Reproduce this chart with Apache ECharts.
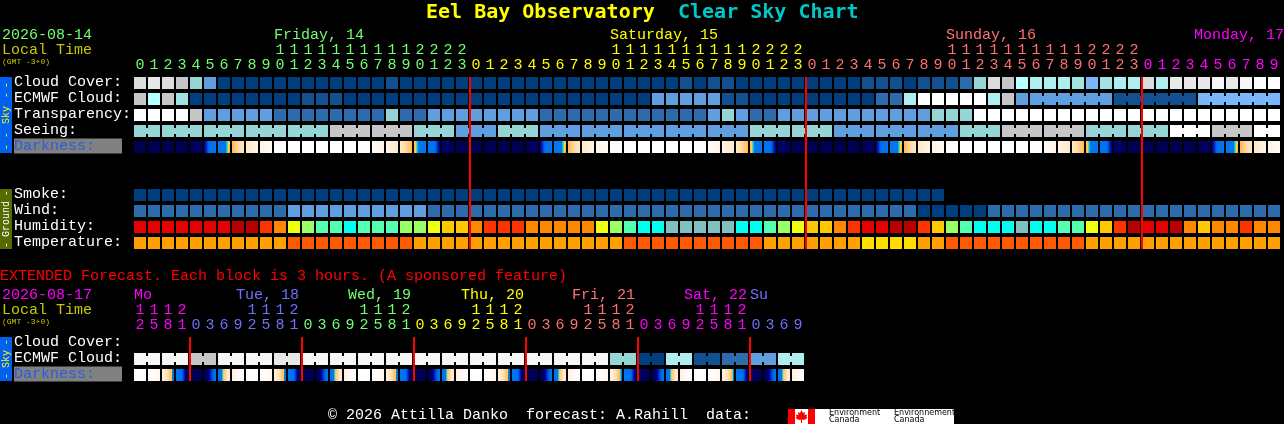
<!DOCTYPE html>
<html>
<head>
<meta charset="utf-8">
<title>Eel Bay Observatory Clear Sky Chart</title>
<script src="https://cdn.jsdelivr.net/npm/echarts@6/dist/echarts.min.js"></script>
<style>html,body{margin:0;padding:0;background:#000}#c{width:1284px;height:424px}</style>
</head>
<body>
<div id="c"></div>
<script>
// ---------- tick labels ----------
const hourOnes = "0 1 2 3 4 5 6 7 8 9 0 1 2 3 4 5 6 7 8 9 0 1 2 3 0 1 2 3 4 5 6 7 8 9 0 1 2 3 4 5 6 7 8 9 0 1 2 3 0 1 2 3 4 5 6 7 8 9 0 1 2 3 4 5 6 7 8 9 0 1 2 3 0 1 2 3 4 5 6 7 8 9".split(" ");
const hourTens = "_ _ _ _ _ _ _ _ _ _ 1 1 1 1 1 1 1 1 1 1 2 2 2 2 _ _ _ _ _ _ _ _ _ _ 1 1 1 1 1 1 1 1 1 1 2 2 2 2 _ _ _ _ _ _ _ _ _ _ 1 1 1 1 1 1 1 1 1 1 2 2 2 2 _ _ _ _ _ _ _ _ _ _".split(" ").map(s => s === "_" ? "" : s);
const hourColors = [[24, "#70ff70"], [48, "#ffff00"], [72, "#ff7070"], [82, "#ff00ff"]];
const extOnes = "2 5 8 1 0 3 6 9 2 5 8 1 0 3 6 9 2 5 8 1 0 3 6 9 2 5 8 1 0 3 6 9 2 5 8 1 0 3 6 9 2 5 8 1 0 3 6 9".split(" ");
const extTens = "1 1 1 2 _ _ _ _ 1 1 1 2 _ _ _ _ 1 1 1 2 _ _ _ _ 1 1 1 2 _ _ _ _ 1 1 1 2 _ _ _ _ 1 1 1 2 _ _ _ _".split(" ").map(s => s === "_" ? "" : s);
const extColors = [[4, "#ff00ff"], [12, "#7070ff"], [20, "#70ff70"], [28, "#ffff00"], [36, "#ff7070"], [44, "#ff00ff"], [48, "#7070ff"]];
const hourlyRows = ["Cloud Cover:", "ECMWF Cloud:", "Transparency:", "Seeing:", "Darkness:", " ", "  ", "Smoke:", "Wind:", "Humidity:", "Temperature:"];
const extendedRows = ["Cloud Cover:", "ECMWF Cloud:", "Darkness:"];
const dayLabels = [["Friday, 14", 274, "#70ff70"], ["Saturday, 15", 610, "#ffff00"], ["Sunday, 16", 946, "#ff7070"], ["Monday, 17", 1194, "#ff00ff"]];
const extDayLabels = [["Mo", 134, "#ff00ff"], ["Tue, 18", 236, "#7070ff"], ["Wed, 19", 348, "#70ff70"], ["Thu, 20", 461, "#ffff00"], ["Fri, 21", 572, "#ff7070"], ["Sat, 22", 684, "#ff00ff"], ["Su", 750, "#7070ff"]];

// ---------- colour scales ----------
const skyPalette = ["#003f7f", "#13508f", "#2c6cad", "#5f9fe0", "#79b7f9", "#95d5d5", "#a2e2e2", "#aeeeee", "#b8ffff", "#c6c6c6", "#dcdcdc", "#e8e8e8", "#f6f6f6", "#ffffff"];
const humidityPalette = ["#80c0c0", "#00ffee", "#55ffb0", "#99ff66", "#eeff11", "#ffc800", "#ff8800", "#ff3300", "#e60000", "#b80000"];
const temperaturePalette = ["#ffa000", "#ff5a00", "#ffdd00"];
const darknessScale = [[0, "#000050"], [0.8, "#000070"], [1, "#0000a0"], [1.4, "#0040d0"], [1.8, "#0070f0"], [3.8, "#0078f0"], [3.85, "#20d0d0"], [3.92, "#60d890"], [3.98, "#ffd040"], [4.1, "#ffb850"], [5, "#ffd8a0"], [5.8, "#ffe8c8"], [6.8, "#fff4e4"], [7.5, "#fffcf8"], [8, "#ffffff"]];

// ---------- hourly series (levels index the palettes above) ----------
const cloudCover = [10,11,10,9,5,3,0,0,0,0,0,0,0,0,0,0,0,0,1,0,0,0,0,0,0,0,0,0,0,0,0,0,0,0,0,0,0,0,0,1,0,1,1,0,0,0,0,0,0,0,0,0,1,1,1,0,1,1,1,2,5,10,9,8,7,7,7,6,4,6,7,7,10,7,11,11,11,12,11,12,13,13];
const ecmwfCloud = [9,8,9,6,0,0,0,0,0,0,0,0,1,1,1,0,0,0,0,0,0,0,0,0,0,0,0,0,0,0,0,0,0,0,0,0,0,3,3,3,3,3,1,1,0,0,0,0,0,0,0,0,0,2,2,7,13,13,13,13,13,7,9,3,3,3,3,3,3,3,1,1,1,1,1,1,4,4,4,4,4,4];
const transparency = [13,13,13,13,9,3,3,3,3,3,2,2,2,2,2,2,2,2,5,2,2,3,3,3,3,3,3,3,3,2,2,2,2,2,2,2,2,2,2,2,2,3,5,3,2,2,3,3,3,3,3,3,3,3,3,3,3,5,5,5,13,13,13,13,13,13,13,13,13,13,13,13,13,13,13,13,13,13,13,13,13,13];
const seeing = [5,5,5,5,5,5,5,5,5,5,5,5,5,5,9,9,9,9,9,9,5,5,5,3,3,3,5,5,5,3,3,3,3,3,3,3,3,3,3,3,3,3,3,3,5,5,5,5,5,5,3,3,3,3,3,3,3,3,3,5,5,5,9,9,9,9,9,9,5,5,5,5,5,5,13,13,13,9,9,9,13,13];
const smoke = [0,0,0,0,0,0,0,0,0,0,0,0,0,0,0,0,0,0,0,0,0,0,0,0,0,0,0,0,0,0,0,0,0,0,0,0,0,0,0,0,0,0,0,0,0,0,0,0,0,0,0,0,0,0,0,0,0,0];
const wind = [2,2,2,2,2,2,2,2,2,2,2,3,3,3,3,3,3,3,3,3,3,2,2,2,2,2,2,2,2,2,2,2,2,2,2,2,2,2,2,2,2,2,2,2,2,2,2,2,2,2,2,2,2,2,2,2,0,0,0,0,0,2,2,2,2,2,2,2,2,2,2,2,2,2,2,2,2,2,2,2,2,2];
const humidity = [8,8,8,8,8,8,8,9,9,7,6,4,3,2,2,1,2,2,2,3,3,4,5,5,6,7,7,7,6,6,6,6,6,4,3,2,1,1,0,0,0,0,0,1,1,2,3,4,5,5,6,7,8,8,9,9,7,5,3,2,1,1,1,0,1,1,2,2,4,5,7,9,8,8,9,6,5,6,6,7,6,6];
const temperature = [0,0,0,0,0,0,0,0,0,0,0,1,1,1,1,1,1,1,1,1,0,0,0,0,0,0,0,0,0,0,0,0,0,0,0,1,1,1,1,1,1,1,1,1,1,0,0,0,0,0,0,0,2,2,2,2,0,0,1,1,1,1,1,1,1,1,1,1,0,0,0,0,0,0,0,0,0,0,0,0,0,0];
const darknessEdges = [0,0,0,0,0,.8,3.2,4.1,5.8,6.8,7.5,8,8,8,8,8,8,7.5,6.8,5.8,4.1,3.2,.8,.1,0,0,0,0,0,.8,3.2,4.1,5.8,6.8,7.5,8,8,8,8,8,8,7.5,6.8,5.8,4.1,3.2,.8,.1,0,0,0,0,0,.8,3.2,4.1,5.8,6.8,7.5,8,8,8,8,8,8,7.5,6.8,5.8,4.1,3.2,.8,.1,0,0,0,0,0,.8,3.2,4.1,5.8,6.8,7.5];
const seeingBlocks = [2,3,3,3,3,3,3,3,3,3,3,3,3,3,3,3,3,3,3,3,3,3,3,3,3,3,3,2];
const ecmwfBlocks = [1,1,1,1,1,1,1,1,1,1,1,1,1,1,1,1,1,1,1,1,1,1,1,1,1,1,1,1,1,1,1,1,1,1,1,1,1,1,1,1,1,1,1,1,1,1,1,1,1,1,1,1,1,1,1,1,1,1,1,1,1,1,1,1,6,6,6];
const dayStarts = [24, 48, 72];

// ---------- extended series ----------
const extCloudCover = [];
const extEcmwf = [12,12,12,12,9,9,12,12,12,12,11,11,12,12,12,12,12,12,12,12,12,12,12,12,12,12,12,12,12,12,12,12,12,12,5,5,0,0,7,7,1,1,2,2,3,3,7,7];
const extDarknessEdges = [8,8,7,3.2,.3,0,2.2,6.6,8,8,7,3.2,.3,0,2.2,6.6,8,8,7,3.2,.3,0,2.2,6.6,8,8,7,3.2,.3,0,2.2,6.6,8,8,7,3.4,.6,0,2.2,6.6,8,8,7,3.5,.6,0,2.2,6.6,7.6];
const extBlocks = [2,2,2,2,2,2,2,2,2,2,2,2,2,2,2,2,2,2,2,2,2,2,2,2];
const extDayStarts = [4, 12, 20, 28, 36, 44];

// ---------- helpers ----------
const MONO = '"Liberation Mono", monospace';
const MONO_BOLD = '"DejaVu Sans Mono", monospace';
const hexRgb = h => [1, 3, 5].map(i => parseInt(h.substr(i, 2), 16));
function darknessColor(v) {
  const s = darknessScale;
  if (v <= s[0][0]) return s[0][1];
  for (let i = 1; i < s.length; i++) {
    if (v <= s[i][0]) {
      const t = (v - s[i - 1][0]) / (s[i][0] - s[i - 1][0]);
      const a = hexRgb(s[i - 1][1]), b = hexRgb(s[i][1]);
      return "rgb(" + a.map((c, k) => Math.round(c + (b[k] - c) * t)).join(",") + ")";
    }
  }
  return s[s.length - 1][1];
}
function darknessFill(v0, v1) {
  const stops = [];
  for (let i = 0; i < 12; i++) {
    const col = darknessColor(v0 + (v1 - v0) * (i + 0.5) / 12);
    stops.push({offset: i / 12, color: col}, {offset: (i + 1) / 12, color: col});
  }
  return new echarts.graphic.LinearGradient(0, 0, 1, 0, stops);
}
function joinFlags(blocks) {
  const out = [];
  blocks.forEach(n => { for (let i = 0; i < n; i++) out.push(i < n - 1 ? 1 : 0); });
  return out;
}
function blockSeries(name, values, row, palette, axis, blocks) {
  const joins = blocks ? joinFlags(blocks) : [];
  return {
    type: "custom", name, xAxisIndex: axis, yAxisIndex: axis === 0 ? 0 : 1, clip: false, z: 2,
    data: values.map((v, i) => [i, row, v, joins[i] || 0]),
    renderItem(params, api) {
      const p = api.coord([api.value(0), api.value(1)]);
      const fill = palette[api.value(2)];
      const kids = [{type: "rect", shape: {x: p[0] - 6, y: p[1] - 6, width: 12, height: 12}, style: {fill}}];
      if (api.value(3)) kids.push({type: "rect", shape: {x: p[0] + 6, y: p[1] - 3, width: 2, height: 6}, style: {fill}});
      return {type: "group", children: kids};
    }
  };
}
function darknessSeries(edges, row, axis) {
  return {
    type: "custom", name: "Darkness", xAxisIndex: axis, yAxisIndex: axis === 0 ? 0 : 1, clip: false, z: 2,
    data: edges.slice(0, -1).map((v, i) => [i, row, v, edges[i + 1]]),
    renderItem(params, api) {
      const p = api.coord([api.value(0), api.value(1)]);
      return {type: "rect", shape: {x: p[0] - 6, y: p[1] - 6, width: 12, height: 12},
        style: {fill: darknessFill(api.value(2), api.value(3))}};
    }
  };
}
function boundarySeries(starts, firstRow, lastRow, axis) {
  return {
    type: "custom", name: "Midnight", xAxisIndex: axis, yAxisIndex: axis === 0 ? 0 : 1, clip: false, z: 5,
    data: starts.map(c => [c, firstRow, lastRow]),
    renderItem(params, api) {
      const a = api.coord([api.value(0), api.value(1)]);
      const b = api.coord([api.value(0), api.value(2)]);
      return {type: "rect", shape: {x: a[0] - 7, y: a[1] - 6, width: 2, height: b[1] - a[1] + 12}, style: {fill: "#ff0000"}};
    }
  };
}
const colorBy = table => (value, index) => {
  for (const [end, c] of table) if (index < end) return c;
  return table[table.length - 1][1];
};
function hourAxis(data, grid, colors, offset) {
  return {
    type: "category", gridIndex: grid, position: "top", data, offset,
    axisLine: {show: false}, axisTick: {show: false}, splitLine: {show: false},
    axisLabel: {show: true, interval: 0, margin: 2, fontFamily: MONO, fontSize: 15, color: colorBy(colors), hideOverlap: false}
  };
}
function rowAxis(data, grid) {
  return {
    type: "category", gridIndex: grid, inverse: true, data,
    axisLine: {show: false}, axisTick: {show: false}, splitLine: {show: false},
    axisLabel: {
      show: true, interval: 0, margin: 119, align: "left", fontFamily: MONO, fontSize: 15, color: "#ffffff",
      padding: [0, 0, 2, 0],
      formatter: v => v === "Darkness:" ? "{d|Darkness:}" : v,
      rich: {d: {color: "#2a5ce0", backgroundColor: "#808080", width: 108, height: 15, fontFamily: MONO, fontSize: 15}}
    }
  };
}
const text = (t, x, y, fill, size, weight, family) => ({
  type: "text", x, y, z: 10, silent: true,
  style: {text: t, fill, font: (weight || "normal") + " " + (size || 15) + "px " + (family || MONO), textVerticalAlign: "middle", textBaseline: "middle"}
});
const vtext = (t, cx, cy, fill) => ({
  type: "text", x: cx, y: cy, rotation: Math.PI / 2, z: 10, silent: true,
  style: {text: t, fill, font: "10px " + MONO, textAlign: "center", align: "center", textVerticalAlign: "middle", verticalAlign: "middle"}
});
const rect = (x, y, w, h, fill, z) => ({type: "rect", silent: true, z: z || 1, shape: {x, y, width: w, height: h}, style: {fill}});

const graphics = [
  text("Eel Bay Observatory", 426, 13, "#ffff00", 20, "bold", MONO_BOLD),
  text("Clear Sky Chart", 678, 13, "#00c8c8", 20, "bold", MONO_BOLD),
  text("2026-08-14", 2, 35, "#70ff70"),
  text("Local Time", 2, 50, "#c8c800"),
  text("(GMT -3+0)", 2, 62, "#c8c800", 8),
  ...dayLabels.map(d => text(d[0], d[1], 35, d[2])),
  rect(0, 77, 12, 76, "#0060f0"),
  vtext("-", 6, 85, "#ffff00"), vtext("-", 6, 95, "#ffff00"), vtext("Sky", 6, 115, "#ffff00"), vtext("-", 6, 135, "#ffff00"), vtext("-", 6, 147, "#ffff00"),
  rect(0, 189, 12, 60, "#556b00"),
  vtext("-", 6, 193, "#ffffff"), vtext("Ground", 6, 219, "#ffffff"), vtext("-", 6, 245, "#ffffff"),
  text("EXTENDED Forecast. Each block is 3 hours. (A sponsored feature)", 0, 276, "#ff0000"),
  text("2026-08-17", 2, 295, "#ff00ff"),
  text("Local Time", 2, 310, "#c8c800"),
  text("(GMT -3+0)", 2, 322, "#c8c800", 8),
  ...extDayLabels.map(d => text(d[0], d[1], 295, d[2])),
  rect(0, 337, 12, 44, "#0060f0"),
  vtext("-", 6, 342, "#ffff00"), vtext("Sky", 6, 359, "#ffff00"), vtext("-", 6, 376, "#ffff00"),
  text("\u00a9 2026 Attilla Danko  forecast: A.Rahill  data:", 328, 415, "#ffffff"),
  rect(788, 409, 166, 15, "#ffffff"),
  rect(788, 409, 7, 15, "#ff0000", 2),
  rect(808, 409, 7, 15, "#ff0000", 2),
  {type: "polygon", silent: true, z: 3, shape: {points: [[801.5,410],[803,413],[805,412],[804.5,415],[807,414.5],[806.5,417],[807.5,418],[804,420],[802,419.5],[802,423],[801,423],[801,419.5],[799,420],[795.5,418],[796.5,417],[796,414.5],[798.5,415],[798,412],[800,413]]}, style: {fill: "#ff0000"}},
  text("Environment", 829, 413, "#000000", 8, "normal", '"DejaVu Sans", sans-serif'),
  text("Canada", 829, 420, "#000000", 8, "normal", '"DejaVu Sans", sans-serif'),
  text("Environnement", 894, 413, "#000000", 8, "normal", '"DejaVu Sans", sans-serif'),
  text("Canada", 894, 420, "#000000", 8, "normal", '"DejaVu Sans", sans-serif')
];

const chart = echarts.init(document.getElementById("c"), null, {width: 1284, height: 424, renderer: "canvas"});
chart.setOption({
  animation: false,
  backgroundColor: "#000000",
  grid: [
    {left: 133, top: 75, width: 1148, height: 176},
    {left: 133, top: 335, width: 672, height: 48}
  ],
  xAxis: [
    hourAxis(hourOnes, 0, hourColors, 0),
    hourAxis(hourTens, 0, hourColors, 15),
    hourAxis(extOnes, 1, extColors, 0),
    hourAxis(extTens, 1, extColors, 15)
  ],
  yAxis: [rowAxis(hourlyRows, 0), rowAxis(extendedRows, 1)],
  graphic: {elements: graphics},
  series: [
    blockSeries("Cloud Cover", cloudCover, 0, skyPalette, 0),
    blockSeries("ECMWF Cloud", ecmwfCloud, 1, skyPalette, 0, ecmwfBlocks),
    blockSeries("Transparency", transparency, 2, skyPalette, 0),
    blockSeries("Seeing", seeing, 3, skyPalette, 0, seeingBlocks),
    darknessSeries(darknessEdges, 4, 0),
    blockSeries("Smoke", smoke, 7, skyPalette, 0),
    blockSeries("Wind", wind, 8, skyPalette, 0),
    blockSeries("Humidity", humidity, 9, humidityPalette, 0),
    blockSeries("Temperature", temperature, 10, temperaturePalette, 0),
    boundarySeries(dayStarts, 0, 10, 0),
    blockSeries("Extended Cloud Cover", extCloudCover, 0, skyPalette, 2),
    blockSeries("Extended ECMWF Cloud", extEcmwf, 1, skyPalette, 2, extBlocks),
    darknessSeries(extDarknessEdges, 2, 2),
    boundarySeries(extDayStarts, 0, 2, 2)
  ]
});
</script>
</body>
</html>
